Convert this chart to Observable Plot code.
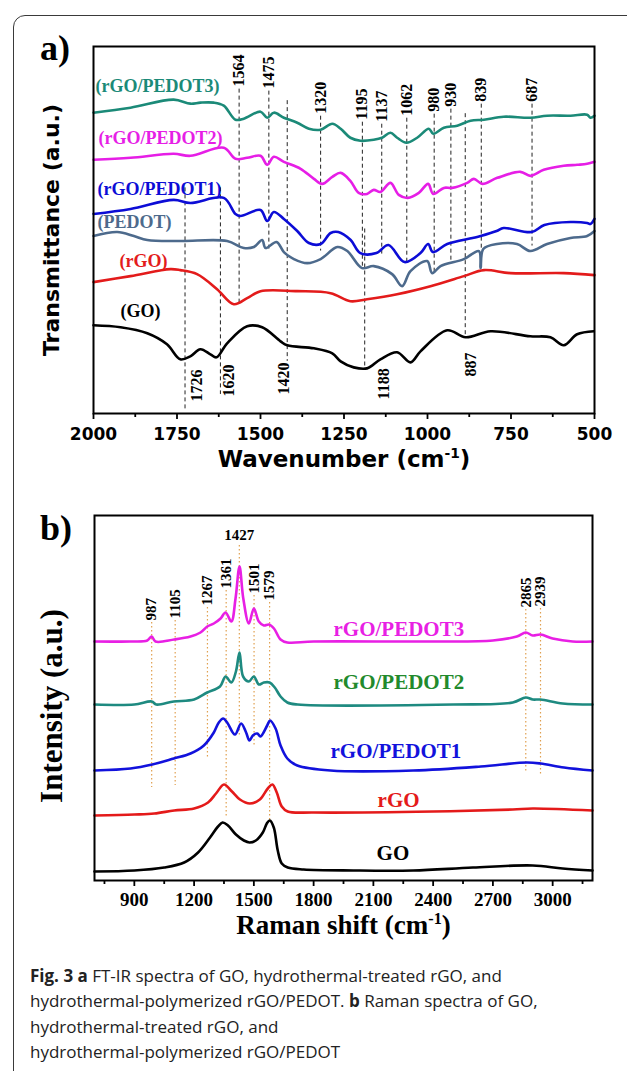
<!DOCTYPE html>
<html><head><meta charset="utf-8">
<script src="https://cdn.jsdelivr.net/npm/d3@7"></script>
<script src="https://cdn.jsdelivr.net/npm/@observablehq/plot@0.6"></script>
<style>
html,body{margin:0;padding:0;background:#fff;}
#wrap{position:relative;width:627px;height:1071px;overflow:hidden;background:#fff;}
#border{position:absolute;left:13px;top:15px;width:660px;height:1090px;border:1.5px solid #3a3a3a;border-radius:12px;box-sizing:border-box;}
.pl{position:absolute;left:0;}
.tag{position:absolute;font-family:"Liberation Serif";font-weight:bold;font-size:36px;line-height:36px;color:#000;}
#cap{position:absolute;left:30px;top:963px;font-family:"Open Sans";font-size:17px;line-height:25.3px;color:#222;white-space:nowrap;}
</style></head>
<body><div id="wrap"><div id="border"></div>
<div class="tag" style="left:40px;top:30px">a)</div>
<div class="tag" style="left:40px;top:510px">b)</div>
<div id="pa" class="pl" style="top:0"></div>
<div id="pb" class="pl" style="top:480px"></div>
<div id="cap"><b>Fig. 3</b> <b>a</b> FT-IR spectra of GO, hydrothermal-treated rGO, and<br>hydrothermal-polymerized rGO/PEDOT. <b>b</b> Raman spectra of GO,<br>hydrothermal-treated rGO, and<br>hydrothermal-polymerized rGO/PEDOT</div>
</div>
<script>
// ---------- Panel a: FT-IR (wavenumber, transmittance a.u.) ----------
const irNames = ["rGO/PEDOT3","rGO/PEDOT2","rGO/PEDOT1","PEDOT","rGO","GO"];
const irColors = ["#1b8a78","#e61ee6","#0c0cd6","#4d6a8c","#e31b1b","#000000"];
const irP3 = [[2000,30.0],[1889,30.5],[1760,31.3],[1710,30.9],[1680,31.0],[1640,31.0],[1610,30.7],[1575,29.3],[1550,29.4],[1500,30.1],[1480,29.5],[1460,30.0],[1430,29.5],[1390,29.0],[1355,28.4],[1320,28.3],[1285,28.9],[1260,28.4],[1231,27.5],[1201,27.2],[1161,27.3],[1136,27.5],[1111,28.0],[1091,27.5],[1063,27.0],[1031,27.5],[996,28.4],[983,27.9],[951,28.5],[911,28.7],[871,29.2],[831,29.3],[772,29.6],[692,29.5],[642,29.7],[572,29.7],[522,29.8],[512,29.5],[500,29.7]];
const irP2 = [[2000,25.3],[1889,25.5],[1760,25.9],[1710,25.7],[1610,26.5],[1575,25.4],[1540,25.5],[1500,25.7],[1480,24.8],[1460,25.6],[1430,25.1],[1380,24.4],[1340,23.4],[1315,22.9],[1285,23.6],[1260,24.0],[1231,23.2],[1206,22.0],[1181,21.9],[1161,22.3],[1141,22.1],[1111,23.0],[1086,21.8],[1059,21.5],[1026,22.0],[998,22.9],[983,21.9],[951,22.5],[926,22.5],[881,23.0],[861,23.4],[836,22.9],[791,23.5],[722,24.1],[692,23.7],[652,24.3],[592,24.7],[552,24.8],[522,24.9],[500,25.1]];
const irP1 = [[2000,19.9],[1889,20.4],[1760,21.3],[1710,21.0],[1610,21.5],[1575,19.9],[1560,19.7],[1500,20.3],[1480,19.2],[1460,20.1],[1430,19.4],[1390,18.2],[1355,17.0],[1320,16.9],[1290,18.0],[1267,18.1],[1230,17.3],[1201,16.0],[1153,16.0],[1117,16.8],[1069,15.1],[1021,16.0],[998,16.9],[984,16.1],[941,16.9],[865,17.5],[841,17.7],[793,18.2],[772,18.5],[688,18.1],[650,18.8],[572,19.1],[522,19.0],[512,18.9],[500,19.4]];
const irPEDOT = [[2000,17.7],[1929,18.1],[1879,17.7],[1839,17.3],[1740,17.2],[1600,17.2],[1550,16.5],[1520,16.6],[1495,17.3],[1485,16.5],[1452,17.1],[1430,16.1],[1400,15.4],[1360,15.0],[1320,15.4],[1270,16.6],[1240,16.2],[1196,14.5],[1161,14.7],[1106,13.9],[1076,12.7],[1051,14.2],[1001,15.2],[986,14.0],[961,14.7],[891,15.4],[846,16.2],[841,14.5],[833,16.4],[792,16.9],[732,16.9],[692,16.2],[642,16.9],[572,17.5],[522,17.7],[500,18.2]];
const irRGO = [[2000,13.1],[1889,13.7],[1770,14.4],[1740,14.3],[1690,13.9],[1630,12.4],[1580,10.9],[1540,11.5],[1500,12.2],[1390,12.2],[1290,12.0],[1231,11.2],[1181,11.4],[1091,11.9],[991,12.7],[891,13.7],[831,14.3],[752,14.0],[592,14.0],[500,13.8]];
const irGO = [[2000,8.8],[1919,8.6],[1839,8.0],[1780,6.9],[1740,5.4],[1710,5.7],[1680,6.4],[1650,5.9],[1632,5.6],[1600,7.0],[1540,8.7],[1495,8.6],[1440,7.2],[1420,6.8],[1340,6.5],[1285,6.0],[1260,5.2],[1221,4.6],[1181,4.5],[1141,5.4],[1091,6.1],[1051,5.1],[1021,6.2],[941,8.3],[886,7.6],[811,8.2],[692,7.7],[632,7.6],[592,6.8],[552,7.9],[502,8.2]];
const irSeries = [irP3, irP2, irP1, irPEDOT, irRGO, irGO];
// legend labels: position (wavenumber, a.u.)
const irLabelText = ["(rGO/PEDOT3)","(rGO/PEDOT2)","(rGO/PEDOT1)","(PEDOT)","(rGO)","(GO)"];
const irLabelW = [1994,1985,1988,1988,1922,1919];
const irLabelV = [32.6,27.5,22.4,19.1,15.2,10.2];
// peak markers with label on top
const irTopPeaks = [1564,1475,1320,1195,1137,1062,980,930,839,687];
const irTopLabelV = [32.6,32.4,29.9,29.3,29.1,29.7,30.1,30.6,31.1,31.1];
const irTopLineBottom = [11.0,16.2,16.2,14.5,15.9,15.0,13.9,15.2,16.4,16.7];
// peak markers with label at bottom
const irBotPeaks = [1726,1620,1420,1188,887];
const irBotLineTop = [22.5,22.5,31.2,18.4,29.9];
const irBotLineBottom = [0.2,1.9,5.2,4.4,7.5];
const irBotLabelW = [1690,1595,1431,1132,871];
const irBotLabelV = [1.2,1.7,1.9,1.4,3.7];
const irMajorTicks = [2000,1750,1500,1250,1000,750,500];
const irMinorTicks = [1875,1625,1375,1125,875,625];

// ---------- Panel b: Raman (shift, intensity a.u.) ----------
const rNames = ["rGO/PEDOT3","rGO/PEDOT2","rGO/PEDOT1","rGO","GO"];
const rColors = ["#e81fe4","#1e8a80","#1212dc","#e41a1a","#000000"];
const rLabelColors = ["#e81fe4","#228a2c","#1212dc","#e41a1a","#000000"];
const rP3 = [[700,23.9],[880,23.9],[965,24.0],[987,24.4],[1006,23.9],[1100,24.1],[1182,24.4],[1232,24.8],[1266,25.4],[1299,25.7],[1333,26.2],[1358,26.8],[1387,25.9],[1408,28.2],[1428,31.4],[1447,28.2],[1475,25.7],[1500,27.2],[1525,25.9],[1550,25.5],[1576,25.6],[1601,25.2],[1634,24.1],[1668,23.8],[1800,23.9],[2400,23.9],[2700,24.0],[2820,24.4],[2865,24.8],[2900,24.5],[2939,24.6],[3000,24.2],[3100,23.9],[3200,23.9]];
const rP2 = [[700,17.6],[900,17.6],[987,17.9],[1010,17.6],[1098,17.9],[1200,18.1],[1266,18.8],[1330,19.4],[1358,20.4],[1387,19.8],[1410,20.9],[1428,22.8],[1446,20.4],[1475,19.9],[1500,20.4],[1525,19.6],[1550,19.8],[1579,19.8],[1605,19.3],[1634,18.4],[1668,17.8],[1720,17.6],[2500,17.6],[2800,17.8],[2865,18.3],[2900,18.1],[2939,18.1],[3050,17.7],[3200,17.6]];
const rP1 = [[700,11.0],[881,11.2],[990,11.6],[1098,12.2],[1182,12.7],[1249,13.5],[1299,14.8],[1324,15.8],[1346,16.2],[1366,15.8],[1405,14.6],[1436,15.7],[1461,14.8],[1478,14.0],[1495,14.5],[1517,14.7],[1533,14.4],[1567,15.5],[1581,16.0],[1609,15.2],[1634,13.5],[1668,12.2],[1718,11.5],[1885,11.0],[2300,11.0],[2639,11.4],[2870,11.8],[2940,11.7],[3057,11.3],[3200,11.0]];
const rRGO = [[700,6.5],[900,6.6],[1000,6.7],[1100,7.0],[1200,7.2],[1270,7.8],[1310,8.7],[1350,9.6],[1390,8.9],[1430,8.1],[1480,7.7],[1530,8.1],[1570,9.2],[1593,9.6],[1615,8.8],[1640,7.4],[1670,6.9],[1800,6.8],[2400,6.9],[2800,7.1],[2900,7.2],[3200,7.0]];
const rGO = [[700,0.9],[900,1.0],[1050,1.3],[1150,1.8],[1220,2.8],[1280,4.3],[1320,5.4],[1343,5.8],[1370,5.5],[1410,4.6],[1450,4.0],[1478,3.8],[1510,4.0],[1545,4.8],[1565,5.7],[1580,6.0],[1600,5.3],[1620,3.0],[1640,1.7],[1670,1.3],[1750,1.1],[2000,1.0],[2300,1.0],[2600,1.3],[2900,1.5],[3050,1.2],[3200,1.0]];
const rSeries = [rP3, rP2, rP1, rRGO, rGO];
const rLabelW = [1900,1900,1885,2121,2116];
const rLabelV = [25.1,19.8,12.9,8.0,2.7];
const rPeaks = [987,1105,1267,1361,1501,1579,2865,2939];
const rPeakLabelV = [26.0,26.2,27.5,29.2,28.7,28.0,27.3,27.4];
const rPeakLineTop = [25.8,26.0,27.3,29.0,28.5,27.8,27.1,27.2];
const rPeakLineBottom = [9.3,9.5,12.3,6.2,13.3,6.0,10.7,10.5];
const rMainPeak = 1427, rMainLabelV = 34.5, rMainLineTop = 33.5, rMainLineBottom = 14.3;
const rMajorTicks = [900,1200,1500,1800,2100,2400,2700,3000];
const rMinorTicks = [750,1050,1350,1650,1950,2250,2550,2850,3150];

// ---------- build tables ----------
const irTable = irSeries.flatMap((s,i)=>s.map(([w,v])=>({series:irNames[i],w,v})));
const irLabels = irLabelText.map((t,i)=>({t,w:irLabelW[i],v:irLabelV[i],c:irColors[i]}));
const irTop = irTopPeaks.map((p,i)=>({p,lab:irTopLabelV[i],y1:irTopLabelV[i]-0.25,y2:irTopLineBottom[i]}));
const irBot = irBotPeaks.map((p,i)=>({p,y1:irBotLineTop[i],y2:irBotLineBottom[i],lw:irBotLabelW[i],lv:irBotLabelV[i]}));

const rTable = rSeries.flatMap((s,i)=>s.map(([w,v])=>({series:rNames[i],w,v})));
const rLabels = rNames.map((t,i)=>({t,w:rLabelW[i],v:rLabelV[i],c:rLabelColors[i]}));
const rPk = rPeaks.map((p,i)=>({p,lab:rPeakLabelV[i],y1:rPeakLineTop[i],y2:rPeakLineBottom[i]}));
const rMain = [{p:rMainPeak,lab:rMainLabelV,y1:rMainLineTop,y2:rMainLineBottom}];

const fmt = d => String(d);
const SANS = "DejaVu Sans";
const SERIF = "Liberation Serif";

const plotA = Plot.plot({
  width: 627, height: 470,
  marginLeft: 93, marginRight: 33, marginTop: 46, marginBottom: 57,
  x: {domain: [2000, 500]},
  y: {domain: [0, 36.6], axis: null},
  color: {domain: irNames, range: irColors},
  style: {fontFamily: SERIF, background: "transparent", overflow: "visible", color: "#000"},
  marks: [
    Plot.ruleX(irTop, {x: "p", y1: "y1", y2: "y2", stroke: "#222", strokeWidth: 1, strokeDasharray: "4,3"}),
    Plot.ruleX(irBot, {x: "p", y1: "y1", y2: "y2", stroke: "#222", strokeWidth: 1, strokeDasharray: "4,3"}),
    Plot.line(irTable, {x: "w", y: "v", z: "series", stroke: "series", strokeWidth: 2.6, curve: "catmull-rom"}),
    Plot.text(irTop, {x: "p", y: "lab", text: d => String(d.p), rotate: -90, textAnchor: "start", fontSize: 16, fontWeight: "bold", fill: "#000"}),
    Plot.text(irBot, {x: "lw", y: "lv", text: d => String(d.p), rotate: -90, textAnchor: "start", fontSize: 16, fontWeight: "bold", fill: "#000"}),
    Plot.text(irLabels, {x: "w", y: "v", text: "t", fill: "c", textAnchor: "start", fontSize: 18, fontWeight: "bold"}),
    Plot.frame({stroke: "#000", strokeWidth: 2}),
    Plot.axisX({ticks: irMajorTicks, tickFormat: fmt, tickSize: 6, tickPadding: 8, strokeWidth: 1.8, label: null, fontSize: 17, fontWeight: "bold", fontFamily: SANS}),
    Plot.axisX({ticks: irMinorTicks, tickFormat: () => "", tickSize: 4, strokeWidth: 1.8, label: null}),
    Plot.text(["Wavenumber (cm-1)"], {frameAnchor: "bottom", dy: 53, text: d => d, textAnchor: "middle", fontSize: 23, fontWeight: "bold", fontFamily: SANS}),
    Plot.text(["Transmittance (a.u.)"], {frameAnchor: "left", dx: -42, rotate: -90, text: d => d, textAnchor: "middle", fontSize: 22, fontWeight: "bold", fontFamily: SANS})
  ]
});

const plotB = Plot.plot({
  width: 627, height: 470,
  marginLeft: 94, marginRight: 35, marginTop: 35, marginBottom: 70,
  x: {domain: [700, 3200]},
  y: {domain: [0, 36.5], axis: null},
  color: {domain: rNames, range: rColors},
  style: {fontFamily: SERIF, background: "transparent", overflow: "visible", color: "#000"},
  marks: [
    Plot.ruleX(rPk, {x: "p", y1: "y1", y2: "y2", stroke: "#e0a050", strokeWidth: 1.2, strokeDasharray: "1.5,2.5"}),
    Plot.ruleX(rMain, {x: "p", y1: "y1", y2: "y2", stroke: "#e0a050", strokeWidth: 1.2, strokeDasharray: "1.5,2.5"}),
    Plot.line(rTable, {x: "w", y: "v", z: "series", stroke: "series", strokeWidth: 2.6, curve: "catmull-rom"}),
    Plot.text(rPk, {x: "p", y: "lab", text: d => String(d.p), rotate: -90, textAnchor: "start", fontSize: 15, fontWeight: "bold", fill: "#000"}),
    Plot.text(rMain, {x: "p", y: "lab", text: d => String(d.p), fontSize: 15, fontWeight: "bold", fill: "#000"}),
    Plot.text(rLabels, {x: "w", y: "v", text: "t", fill: "c", textAnchor: "start", fontSize: 21, fontWeight: "bold"}),
    Plot.frame({stroke: "#000", strokeWidth: 2}),
    Plot.axisX({ticks: rMajorTicks, tickFormat: fmt, tickSize: 6, tickPadding: 6, strokeWidth: 1.8, label: null, fontSize: 19, fontWeight: "bold", fontFamily: SERIF}),
    Plot.axisX({ticks: rMinorTicks, tickFormat: () => "", tickSize: 4, strokeWidth: 1.8, label: null}),
    Plot.text(["Raman shift (cm-1)"], {frameAnchor: "bottom", dy: 53, text: d => d, textAnchor: "middle", fontSize: 27, fontWeight: "bold", fontFamily: SERIF}),
    Plot.text(["Intensity (a.u.)"], {frameAnchor: "left", dx: -42, dy: 8, rotate: -90, text: d => d, textAnchor: "middle", fontSize: 31, fontWeight: "bold", fontFamily: SERIF})
  ]
});

// superscript the unit exponent
function supify(svg, full, base, sup, tail, shift) {
  d3.select(svg).selectAll("text").filter(function(){ return this.textContent === full; }).each(function(){
    const t = d3.select(this);
    t.selectAll("*").remove(); t.text(null);
    t.append("tspan").text(base);
    t.append("tspan").attr("dy", -shift).attr("font-size", "0.6em").text(sup);
    t.append("tspan").attr("dy", shift).text(tail);
  });
}
supify(plotA, "Wavenumber (cm-1)", "Wavenumber (cm", "-1", ")", 9);
supify(plotB, "Raman shift (cm-1)", "Raman shift (cm", "-1", ")", 10);
// tick label styling
d3.select(plotA).selectAll('g[aria-label="x-axis tick label"] text').attr("font-weight","bold").attr("font-family",SANS).attr("font-size",17);
d3.select(plotB).selectAll('g[aria-label="x-axis tick label"] text').attr("font-weight","bold").attr("font-family",SERIF).attr("font-size",19);

document.getElementById("pa").appendChild(plotA);
document.getElementById("pb").appendChild(plotB);
</script>
</body></html>
